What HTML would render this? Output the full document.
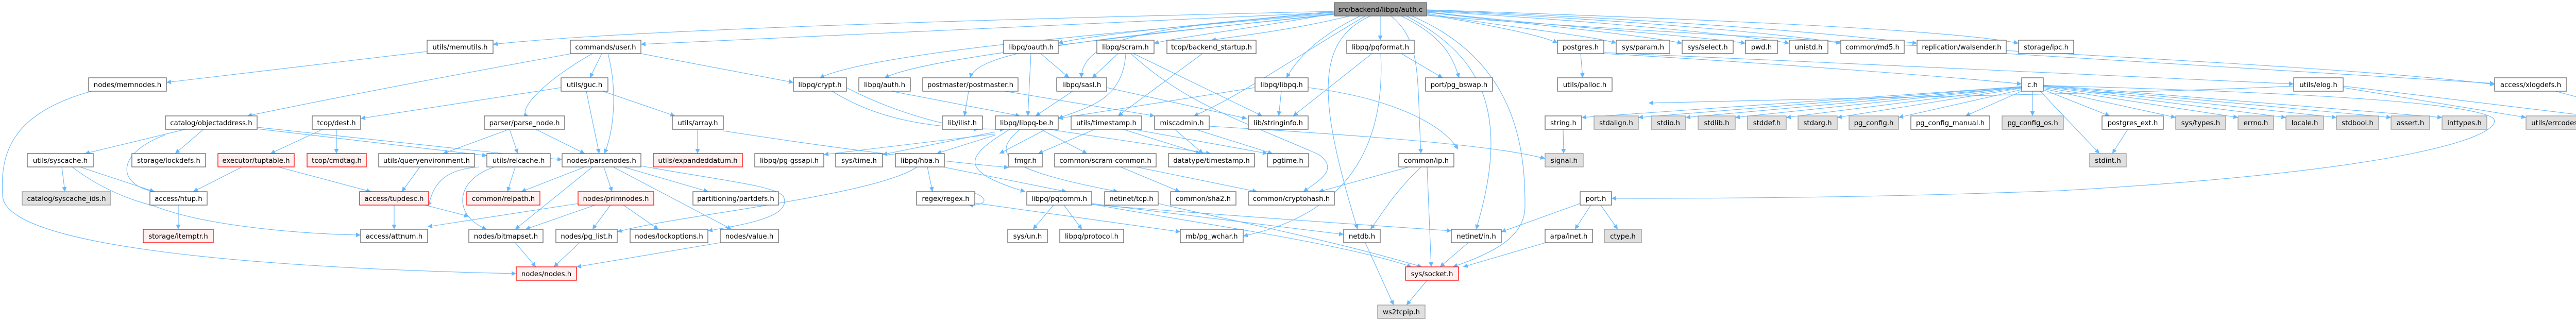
<!DOCTYPE html>
<html><head><meta charset="utf-8"><style>
html,body{margin:0;padding:0;background:#fff;}
svg{display:block;}
.e{fill:none;stroke:#63b8ff;stroke-width:1.1;}
.n rect{fill:#fff;stroke:#666;stroke-width:1.3;}
.g rect{fill:#e0e0e0;stroke:#999;stroke-width:1.3;}
.r rect{fill:#fff0f0;stroke:#f00;stroke-width:1.3;}
.root rect{fill:#999;stroke:#666;stroke-width:1.3;}
text{font-family:"DejaVu Sans","Liberation Sans",sans-serif;font-size:13.3px;fill:#000;text-anchor:middle;}
</style></head><body>
<svg width="5221" height="623" viewBox="0 0 5221 623" xmlns="http://www.w3.org/2000/svg">
<defs><marker id="a" viewBox="0 0 10 10" refX="10" refY="5" markerWidth="9" markerHeight="9" markerUnits="userSpaceOnUse" orient="auto"><path d="M0,0 L10,5 L0,10 z" fill="#63b8ff"/></marker></defs>
<g marker-end="url(#a)">
<!-- root edges -->
<path class="e" d="M2590,22 C1800,40 1200,60 957,86"/>
<path class="e" d="M2590,24 C2000,50 1500,70 1244,86"/>
<path class="e" d="M2590,26 C2200,60 1700,100 1591,151"/>
<path class="e" d="M2590,27 C2200,70 1800,110 1717,151"/>
<path class="e" d="M2590,28 C2200,70 1900,90 1883,151"/>
<path class="e" d="M2590,22 C2300,50 2100,70 2054,84"/>
<path class="e" d="M2590,24 C2300,50 2100,60 2099,151"/>
<path class="e" d="M2590,26 C2400,60 2300,70 2240,84"/>
<path class="e" d="M2620,31 C2500,60 2400,70 2351,78"/>
<path class="e" d="M2679,31 L2679,78"/>
<path class="e" d="M2640,31 C2560,70 2520,110 2497,151"/>
<path class="e" d="M2650,31 C2500,120 2400,190 2317,225"/>
<path class="e" d="M2660,31 C2550,80 2560,200 2635,445"/>
<path class="e" d="M2700,31 C2760,80 2750,150 2758,298"/>
<path class="e" d="M2720,31 C2800,70 2820,110 2832,151"/>
<path class="e" d="M2730,31 C2860,100 2940,200 2865,445"/>
<path class="e" d="M2740,31 C2950,120 2960,300 2960,400 C2960,460 2900,490 2820,518"/>
<path class="e" d="M2769,28 C2900,50 3000,70 3023,84"/>
<path class="e" d="M2769,26 C2900,50 3100,70 3137,84"/>
<path class="e" d="M2769,24 C3000,50 3200,70 3265,84"/>
<path class="e" d="M2769,23 C3000,50 3300,70 3388,84"/>
<path class="e" d="M2769,22 C3100,40 3400,70 3473,84"/>
<path class="e" d="M2769,21 C3200,40 3500,70 3573,84"/>
<path class="e" d="M2769,20 C3300,40 3600,70 3721,84"/>
<path class="e" d="M2769,19 C3400,40 3800,60 3918,84"/>
<path class="e" d="M2769,30 C3400,80 4500,120 4842,164"/>
<!-- mid -->
<path class="e" d="M829,100 L323,160"/>
<path class="e" d="M178,177 C20,220 0,300 5,380 C10,480 500,520 1002,531"/>
<path class="e" d="M1110,104 C800,160 600,200 480,225"/>
<path class="e" d="M1150,104 C1050,160 1000,220 1026,225"/>
<path class="e" d="M1168,104 L1145,151"/>
<path class="e" d="M1180,104 C1200,180 1190,260 1173,298"/>
<path class="e" d="M1244,104 L1540,160"/>
<path class="e" d="M1089,170 L700,230"/>
<path class="e" d="M1138,177 L1163,298"/>
<path class="e" d="M1170,177 L1310,225"/>
<path class="e" d="M989,251 L1005,298"/>
<path class="e" d="M1040,251 L1135,298"/>
<path class="e" d="M988,251 L860,298"/>
<path class="e" d="M1354,251 L1354,298"/>
<path class="e" d="M1404,254 C1700,300 1900,320 1958,325"/>
<path class="e" d="M1615,177 C1700,230 1800,250 1950,251"/>
<path class="e" d="M1730,177 L1980,225"/>
<path class="e" d="M1880,177 L1872,225"/>
<path class="e" d="M1950,177 L2241,225"/>
<path class="e" d="M2001,104 L1995,225"/>
<path class="e" d="M2020,104 L2075,151"/>
<path class="e" d="M2170,104 L2120,151"/>
<path class="e" d="M2185,104 C2180,200 2100,210 2054,230"/>
<path class="e" d="M2200,104 L2450,225"/>
<path class="e" d="M2195,104 C2300,200 2400,230 2560,300 C2600,330 2560,350 2530,372"/>
<path class="e" d="M2082,177 L2010,225"/>
<path class="e" d="M2148,170 L2420,230"/>
<path class="e" d="M2334,104 L2170,225"/>
<path class="e" d="M2436,170 L2054,230"/>
<path class="e" d="M2487,177 L2482,225"/>
<path class="e" d="M2663,104 L2510,225"/>
<path class="e" d="M2680,104 C2690,300 2600,420 2413,458"/>
<path class="e" d="M2720,104 L2800,151"/>
<path class="e" d="M2539,170 C2700,190 2800,240 2830,290"/>
<path class="e" d="M2030,251 L1940,298"/>
<path class="e" d="M2035,251 L2350,298"/>
<path class="e" d="M2020,251 L2110,298"/>
<path class="e" d="M1932,260 L1599,300"/>
<path class="e" d="M1932,256 L1713,300"/>
<path class="e" d="M1960,251 C1880,300 1850,330 1990,372"/>
<path class="e" d="M1980,251 C1920,300 1950,330 2170,372"/>
<path class="e" d="M1932,262 L1818,298"/>
<path class="e" d="M2125,251 L2015,298"/>
<path class="e" d="M2180,251 L2330,298"/>
<path class="e" d="M2200,251 L2460,298"/>
<path class="e" d="M2280,251 L2335,298"/>
<path class="e" d="M2320,251 L2470,298"/>
<path class="e" d="M2347,245 C2600,260 2900,280 2999,308"/>
<path class="e" d="M2175,324 L2290,372"/>
<path class="e" d="M2205,324 L2440,372"/>
<path class="e" d="M1800,324 L1810,372"/>
<path class="e" d="M1780,324 C1700,380 1300,420 1198,450"/>
<path class="e" d="M1830,324 L2070,372"/>
<path class="e" d="M1892,394 L2291,450"/>
<path class="e" d="M1880,372 C1920,380 1920,400 1880,398"/>
<path class="e" d="M2045,398 L2005,445"/>
<path class="e" d="M2065,398 L2100,445"/>
<path class="e" d="M2119,395 L2608,455"/>
<path class="e" d="M2119,396 C2300,430 2600,470 2740,518"/>
<path class="e" d="M2119,397 C2400,420 2700,440 2817,448"/>
<path class="e" d="M2248,395 C2400,430 2600,470 2760,518"/>
<path class="e" d="M2822,300 L2560,372"/>
<path class="e" d="M2758,324 C2700,380 2680,420 2660,445"/>
<path class="e" d="M2770,324 L2778,518"/>
<!-- left cluster -->
<path class="e" d="M360,251 L165,298"/>
<path class="e" d="M395,251 L340,298"/>
<path class="e" d="M320,262 C220,300 230,360 300,372"/>
<path class="e" d="M499,247 L1091,310"/>
<path class="e" d="M499,250 L945,302"/>
<path class="e" d="M626,251 L525,298"/>
<path class="e" d="M653,251 L653,298"/>
<path class="e" d="M120,324 L126,372"/>
<path class="e" d="M155,324 L300,372"/>
<path class="e" d="M140,324 C200,370 260,390 300,400 C400,440 600,455 700,456"/>
<path class="e" d="M470,324 L375,372"/>
<path class="e" d="M540,324 L720,372"/>
<path class="e" d="M815,324 L780,372"/>
<path class="e" d="M346,398 L346,445"/>
<path class="e" d="M765,398 L765,445"/>
<path class="e" d="M825,398 L910,420"/>
<path class="e" d="M1000,324 L985,372"/>
<path class="e" d="M960,324 C880,350 880,420 945,445"/>
<path class="e" d="M930,324 C840,330 840,380 830,400"/>
<path class="e" d="M1135,324 L1012,372"/>
<path class="e" d="M1172,324 L1188,372"/>
<path class="e" d="M1210,324 L1375,372"/>
<path class="e" d="M1150,324 L1000,445"/>
<path class="e" d="M1190,324 L1420,445"/>
<path class="e" d="M1244,322 C1400,350 1500,360 1520,380 C1540,420 1450,435 1374,448"/>
<path class="e" d="M1155,398 L1020,445"/>
<path class="e" d="M1185,398 L1150,445"/>
<path class="e" d="M1210,398 L1278,445"/>
<path class="e" d="M1122,395 L830,440"/>
<path class="e" d="M1000,471 L1040,518"/>
<path class="e" d="M1125,471 L1075,518"/>
<path class="e" d="M1398,471 L1119,518"/>
<path class="e" d="M1643,170 C1700,200 1800,240 1900,251"/>
<!-- right cluster -->
<path class="e" d="M3068,104 L3072,151"/>
<path class="e" d="M3113,104 C3400,120 3800,150 3924,163"/>
<path class="e" d="M3113,102 C3500,120 4200,150 4452,163"/>
<path class="e" d="M3894,104 C4300,130 4600,150 4842,162"/>
<path class="e" d="M3924,168 L3070,228"/>
<path class="e" d="M3924,168 L3180,228"/>
<path class="e" d="M3924,169 L3272,228"/>
<path class="e" d="M3924,169 L3368,228"/>
<path class="e" d="M3924,170 L3467,228"/>
<path class="e" d="M3924,171 L3566,228"/>
<path class="e" d="M3924,174 L3685,228"/>
<path class="e" d="M3924,177 L3815,225"/>
<path class="e" d="M3945,177 L3945,225"/>
<path class="e" d="M3960,177 L4075,298"/>
<path class="e" d="M3966,174 L4095,225"/>
<path class="e" d="M3966,172 L4223,228"/>
<path class="e" d="M3966,170 L4344,228"/>
<path class="e" d="M3966,168 L4437,228"/>
<path class="e" d="M3966,167 L4535,228"/>
<path class="e" d="M3966,166 L4641,228"/>
<path class="e" d="M3966,165 L4740,228"/>
<path class="e" d="M3966,166 C4500,180 4800,200 4840,230 C4860,260 4700,330 4000,370 C3600,385 3300,385 3128,385"/>
<path class="e" d="M4452,167 C4200,180 3600,190 3200,200"/>
<path class="e" d="M4548,170 L4903,228"/>
<path class="e" d="M4548,167 L5050,228"/>
<path class="e" d="M4960,177 L5152,228"/>
<path class="e" d="M3034,251 L3035,298"/>
<path class="e" d="M4130,251 L4100,298"/>
<path class="e" d="M3067,395 L2914,450"/>
<path class="e" d="M3088,398 L3057,445"/>
<path class="e" d="M3107,398 L3140,445"/>
<path class="e" d="M3000,471 L2840,518"/>
<path class="e" d="M2850,471 L2795,518"/>
<path class="e" d="M2770,544 L2730,592"/>
<path class="e" d="M2650,471 L2705,592"/>
</g>
<!-- nodes -->
<g class="root"><rect x="2590" y="5" width="179" height="26"/><text x="2679.5" y="23">src/backend/libpq/auth.c</text></g>
<g class="n">
<rect x="829" y="78" width="128" height="26"/><text x="893" y="96">utils/memutils.h</text>
<rect x="1107" y="78" width="137" height="26"/><text x="1175.5" y="96">commands/user.h</text>
<rect x="1948" y="78" width="106" height="26"/><text x="2001" y="96">libpq/oauth.h</text>
<rect x="2129" y="78" width="111" height="26"/><text x="2184.5" y="96">libpq/scram.h</text>
<rect x="2265" y="78" width="173" height="26"/><text x="2351.5" y="96">tcop/backend_startup.h</text>
<rect x="2614" y="78" width="131" height="26"/><text x="2679.5" y="96">libpq/pqformat.h</text>
<rect x="3023" y="78" width="90" height="26"/><text x="3068" y="96">postgres.h</text>
<rect x="3137" y="78" width="104" height="26"/><text x="3189" y="96">sys/param.h</text>
<rect x="3265" y="78" width="99" height="26"/><text x="3314.5" y="96">sys/select.h</text>
<rect x="3388" y="78" width="62" height="26"/><text x="3419" y="96">pwd.h</text>
<rect x="3473" y="78" width="75" height="26"/><text x="3510.5" y="96">unistd.h</text>
<rect x="3573" y="78" width="123" height="26"/><text x="3634.5" y="96">common/md5.h</text>
<rect x="3721" y="78" width="173" height="26"/><text x="3807.5" y="96">replication/walsender.h</text>
<rect x="3918" y="78" width="107" height="26"/><text x="3971.5" y="96">storage/ipc.h</text>

<rect x="172" y="151" width="151" height="26"/><text x="247.5" y="169">nodes/memnodes.h</text>
<rect x="1089" y="151" width="91" height="26"/><text x="1134.5" y="169">utils/guc.h</text>
<rect x="1540" y="151" width="103" height="26"/><text x="1591.5" y="169">libpq/crypt.h</text>
<rect x="1667" y="151" width="100" height="26"/><text x="1717" y="169">libpq/auth.h</text>
<rect x="1791" y="151" width="185" height="26"/><text x="1883.5" y="169">postmaster/postmaster.h</text>
<rect x="2051" y="151" width="97" height="26"/><text x="2099.5" y="169">libpq/sasl.h</text>
<rect x="2436" y="151" width="103" height="26"/><text x="2487.5" y="169">libpq/libpq.h</text>
<rect x="2767" y="151" width="130" height="26"/><text x="2832" y="169">port/pg_bswap.h</text>
<rect x="3023" y="151" width="106" height="26"/><text x="3076" y="169">utils/palloc.h</text>
<rect x="3924" y="151" width="42" height="26"/><text x="3945" y="169">c.h</text>
<rect x="4452" y="151" width="96" height="26"/><text x="4500" y="169">utils/elog.h</text>
<rect x="4842" y="151" width="140" height="26"/><text x="4912" y="169">access/xlogdefs.h</text>

<rect x="321" y="225" width="178" height="26"/><text x="410" y="243">catalog/objectaddress.h</text>
<rect x="606" y="225" width="94" height="26"/><text x="653" y="243">tcop/dest.h</text>
<rect x="940" y="225" width="156" height="26"/><text x="1018" y="243">parser/parse_node.h</text>
<rect x="1305" y="225" width="99" height="26"/><text x="1354.5" y="243">utils/array.h</text>
<rect x="1829" y="225" width="78" height="26"/><text x="1868" y="243">lib/ilist.h</text>
<rect x="1932" y="225" width="122" height="26"/><text x="1993" y="243">libpq/libpq-be.h</text>
<rect x="2079" y="225" width="137" height="26"/><text x="2147.5" y="243">utils/timestamp.h</text>
<rect x="2241" y="225" width="106" height="26"/><text x="2294" y="243">miscadmin.h</text>
<rect x="2423" y="225" width="116" height="26"/><text x="2481" y="243">lib/stringinfo.h</text>
<rect x="2999" y="225" width="71" height="26"/><text x="3034.5" y="243">string.h</text>
<rect x="3709" y="225" width="153" height="26"/><text x="3785.5" y="243">pg_config_manual.h</text>
<rect x="4080" y="225" width="119" height="26"/><text x="4139.5" y="243">postgres_ext.h</text>

<rect x="53" y="298" width="128" height="26"/><text x="117" y="316">utils/syscache.h</text>
<rect x="256" y="298" width="143" height="26"/><text x="327.5" y="316">storage/lockdefs.h</text>
<rect x="735" y="298" width="186" height="26"/><text x="828" y="316">utils/queryenvironment.h</text>
<rect x="945" y="298" width="123" height="26"/><text x="1006.5" y="316">utils/relcache.h</text>
<rect x="1091" y="298" width="153" height="26"/><text x="1167.5" y="316">nodes/parsenodes.h</text>
<rect x="1465" y="298" width="134" height="26"/><text x="1532" y="316">libpq/pg-gssapi.h</text>
<rect x="1622" y="298" width="91" height="26"/><text x="1667.5" y="316">sys/time.h</text>
<rect x="1738" y="298" width="95" height="26"/><text x="1785.5" y="316">libpq/hba.h</text>
<rect x="1958" y="298" width="65" height="26"/><text x="1990.5" y="316">fmgr.h</text>
<rect x="2047" y="298" width="197" height="26"/><text x="2145.5" y="316">common/scram-common.h</text>
<rect x="2268" y="298" width="167" height="26"/><text x="2351.5" y="316">datatype/timestamp.h</text>
<rect x="2460" y="298" width="80" height="26"/><text x="2500" y="316">pgtime.h</text>
<rect x="2715" y="298" width="107" height="26"/><text x="2768.5" y="316">common/ip.h</text>

<rect x="291" y="372" width="111" height="26"/><text x="346.5" y="390">access/htup.h</text>
<rect x="1345" y="372" width="166" height="26"/><text x="1428" y="390">partitioning/partdefs.h</text>
<rect x="1779" y="372" width="113" height="26"/><text x="1835.5" y="390">regex/regex.h</text>
<rect x="1993" y="372" width="126" height="26"/><text x="2056" y="390">libpq/pqcomm.h</text>
<rect x="2144" y="372" width="104" height="26"/><text x="2196" y="390">netinet/tcp.h</text>
<rect x="2272" y="372" width="127" height="26"/><text x="2335.5" y="390">common/sha2.h</text>
<rect x="2423" y="372" width="167" height="26"/><text x="2506.5" y="390">common/cryptohash.h</text>
<rect x="3067" y="372" width="61" height="26"/><text x="3097.5" y="390">port.h</text>

<rect x="700" y="445" width="130" height="26"/><text x="765" y="463">access/attnum.h</text>
<rect x="910" y="445" width="144" height="26"/><text x="982" y="463">nodes/bitmapset.h</text>
<rect x="1079" y="445" width="119" height="26"/><text x="1138.5" y="463">nodes/pg_list.h</text>
<rect x="1223" y="445" width="151" height="26"/><text x="1298.5" y="463">nodes/lockoptions.h</text>
<rect x="1398" y="445" width="113" height="26"/><text x="1454.5" y="463">nodes/value.h</text>
<rect x="1956" y="445" width="77" height="26"/><text x="1994.5" y="463">sys/un.h</text>
<rect x="2057" y="445" width="124" height="26"/><text x="2119" y="463">libpq/protocol.h</text>
<rect x="2291" y="445" width="122" height="26"/><text x="2352" y="463">mb/pg_wchar.h</text>
<rect x="2608" y="445" width="71" height="26"/><text x="2643.5" y="463">netdb.h</text>
<rect x="2817" y="445" width="97" height="26"/><text x="2865.5" y="463">netinet/in.h</text>
<rect x="2999" y="445" width="92" height="26"/><text x="3045" y="463">arpa/inet.h</text>
</g>
<g class="g">
<rect x="3094" y="225" width="86" height="26"/><text x="3137" y="243">stdalign.h</text>
<rect x="3205" y="225" width="67" height="26"/><text x="3238.5" y="243">stdio.h</text>
<rect x="3296" y="225" width="72" height="26"/><text x="3332" y="243">stdlib.h</text>
<rect x="3392" y="225" width="75" height="26"/><text x="3429.5" y="243">stddef.h</text>
<rect x="3490" y="225" width="76" height="26"/><text x="3528" y="243">stdarg.h</text>
<rect x="3589" y="225" width="96" height="26"/><text x="3637" y="243">pg_config.h</text>
<rect x="3886" y="225" width="119" height="26"/><text x="3945.5" y="243">pg_config_os.h</text>
<rect x="4223" y="225" width="97" height="26"/><text x="4271.5" y="243">sys/types.h</text>
<rect x="4344" y="225" width="69" height="26"/><text x="4378.5" y="243">errno.h</text>
<rect x="4437" y="225" width="73" height="26"/><text x="4473.5" y="243">locale.h</text>
<rect x="4535" y="225" width="82" height="26"/><text x="4576" y="243">stdbool.h</text>
<rect x="4641" y="225" width="75" height="26"/><text x="4678.5" y="243">assert.h</text>
<rect x="4740" y="225" width="87" height="26"/><text x="4783.5" y="243">inttypes.h</text>
<rect x="4903" y="225" width="123" height="26"/><text x="4964.5" y="243">utils/errcodes.h</text>
<rect x="5050" y="225" width="78" height="26"/><text x="5089" y="243">setjmp.h</text>
<rect x="5152" y="225" width="64" height="26"/><text x="5184" y="243">fcntl.h</text>
<rect x="2999" y="298" width="74" height="26"/><text x="3036" y="316">signal.h</text>
<rect x="4056" y="298" width="71" height="26"/><text x="4091.5" y="316">stdint.h</text>
<rect x="43" y="372" width="172" height="26"/><text x="129" y="390">catalog/syscache_ids.h</text>
<rect x="3114" y="445" width="72" height="26"/><text x="3150" y="463">ctype.h</text>
<rect x="2674" y="592" width="92" height="26"/><text x="2720" y="610">ws2tcpip.h</text>
</g>
<g class="r">
<rect x="423" y="298" width="148" height="26"/><text x="497" y="316">executor/tuptable.h</text>
<rect x="596" y="298" width="115" height="26"/><text x="653.5" y="316">tcop/cmdtag.h</text>
<rect x="1268" y="298" width="173" height="26"/><text x="1354.5" y="316">utils/expandeddatum.h</text>
<rect x="698" y="372" width="134" height="26"/><text x="765" y="390">access/tupdesc.h</text>
<rect x="906" y="372" width="142" height="26"/><text x="977" y="390">common/relpath.h</text>
<rect x="1122" y="372" width="147" height="26"/><text x="1195.5" y="390">nodes/primnodes.h</text>
<rect x="278" y="445" width="136" height="26"/><text x="346" y="463">storage/itemptr.h</text>
<rect x="1002" y="518" width="117" height="26"/><text x="1060.5" y="536">nodes/nodes.h</text>
<rect x="2728" y="518" width="103" height="26"/><text x="2779.5" y="536">sys/socket.h</text>
</g>
</svg>
</body></html>
